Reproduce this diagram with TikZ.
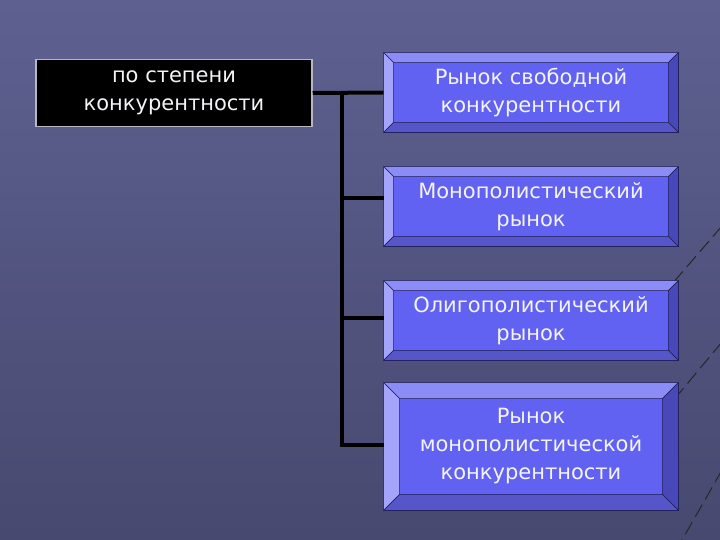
\documentclass[tikz,border=0pt]{standalone}
\usepackage{fontspec}
\setmainfont{DejaVu Sans}
\definecolor{bgtop}{HTML}{5E6090}
\definecolor{bgbot}{HTML}{474970}
\definecolor{boxface}{HTML}{6262F2}
\definecolor{boxline}{HTML}{1C1C55}
\definecolor{bevtop}{HTML}{8C8CF6}
\definecolor{bevleft}{HTML}{A4A4FB}
\definecolor{bevright}{HTML}{4848B8}
\definecolor{bevbot}{HTML}{5656C8}
\definecolor{srcborder}{HTML}{B8B8C4}
\definecolor{shadowc}{HTML}{7C7E9E}
\definecolor{txtc}{HTML}{F4F4F8}
\newcommand\mybevel[2]{%
  \filldraw[bevtop,draw=boxline,line width=0.6pt] (#1.north west) -- (#1.north east) -- ([shift={(-#2,#2)}]#1.north east) -- ([shift={(#2,#2)}]#1.north west) -- cycle;
  \filldraw[bevleft,draw=boxline,line width=0.6pt] (#1.north west) -- (#1.south west) -- ([shift={(#2,-#2)}]#1.south west) -- ([shift={(#2,#2)}]#1.north west) -- cycle;
  \filldraw[bevright,draw=boxline,line width=0.6pt] (#1.north east) -- (#1.south east) -- ([shift={(-#2,-#2)}]#1.south east) -- ([shift={(-#2,#2)}]#1.north east) -- cycle;
  \filldraw[bevbot,draw=boxline,line width=0.6pt] (#1.south west) -- (#1.south east) -- ([shift={(-#2,-#2)}]#1.south east) -- ([shift={(#2,-#2)}]#1.south west) -- cycle;
}
\begin{document}
\begin{tikzpicture}[x=1pt,y=-1pt,
  txt/.style={text=txtc, align=center, font=\fontsize{21}{28}\selectfont},
  srcbox/.style={txt, fill=black, draw=srcborder, line width=1.5pt, minimum width=276pt, minimum height=67pt, inner sep=0pt},
  face/.style={txt, fill=boxface, draw=boxline, line width=0.8pt, minimum width=294pt, inner sep=0pt},
  conn/.style={line width=4pt, black},
  shadowline/.style={line width=4pt, shadowc},
  deco/.style={line width=1pt, black!85, dash pattern=on 14pt off 6pt}]
\useasboundingbox (0,0) rectangle (720,540);
\shade[top color=bgtop, bottom color=bgbot] (0,0) rectangle (720,540);
% background decoration lines
\draw[deco] (722,226) -- (672,284);
\draw[deco] (722,342) -- (672,402);
\draw[deco] (722,470) -- (682,540);
% nodes
\node[srcbox] (src) at (174,93) {по степени\\конкурентности};
\node[face, minimum height=79pt] (b1) at (531,92.5) {Рынок свободной\\конкурентности};
\node[face, minimum height=79pt] (b2) at (531,206.5) {Монополистический\\рынок};
\node[face, minimum height=79pt] (b3) at (531,320.5) {Олигополистический\\рынок};
\node[face, minimum height=127pt] (b4) at (531,446.5) {Рынок\\монополистической\\конкурентности};
\mybevel{b1}{10}
\mybevel{b2}{10}
\mybevel{b3}{10}
\mybevel{b4}{16}
% junctions
\coordinate (jx) at (342,0);
\coordinate (j1) at (jx |- src.east);
\coordinate (j2) at (342,198);
\coordinate (j3) at (342,318);
\coordinate (j4) at (342,445);
% shadows
\begin{scope}[shift={(2.5,2.5)}]
\draw[shadowline] (src.east) -- (b1.west);
\draw[shadowline] (j1) -- (j4) -- (j4 -| b4.west);
\draw[shadowline] (j2) -- (j2 -| b2.west);
\draw[shadowline] (j3) -- (j3 -| b3.west);
\end{scope}
% connectors
\draw[conn] (src.east) -- (b1.west);
\draw[conn] (j1) -- (j4) -- (j4 -| b4.west);
\draw[conn] (j2) -- (j2 -| b2.west);
\draw[conn] (j3) -- (j3 -| b3.west);
\end{tikzpicture}
\end{document}
